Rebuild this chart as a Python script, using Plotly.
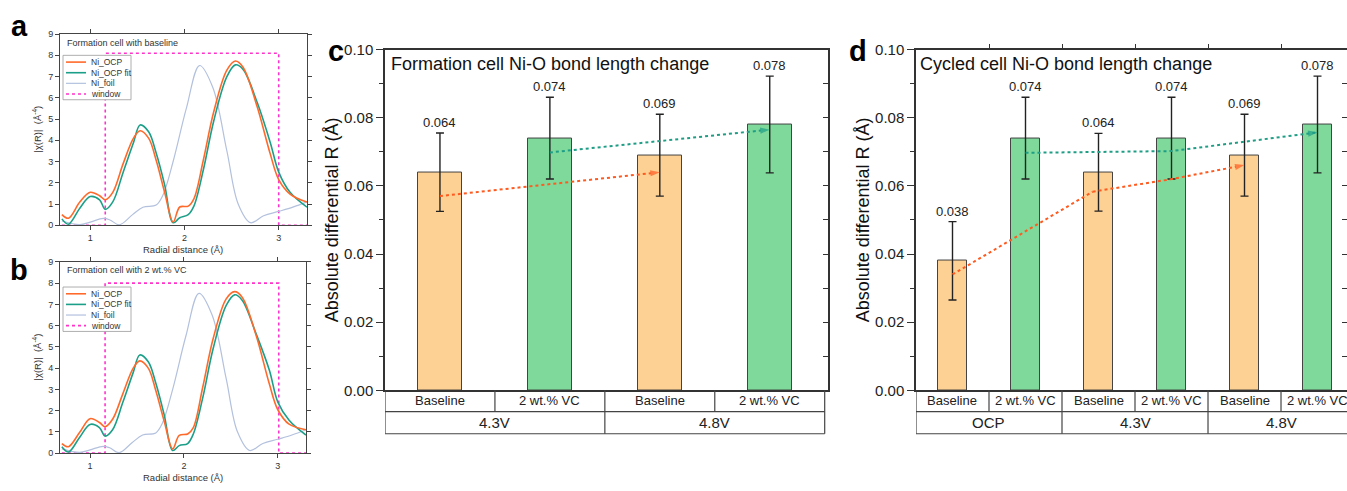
import plotly.graph_objects as go

W, H = 1347, 491
FONT = "Arial, Liberation Sans, sans-serif"

# ---------------- data: panels a / b (EXAFS |chi(R)|) ----------------
r_grid = [0.70, 0.77, 0.89, 1.00, 1.10, 1.16, 1.24, 1.35, 1.46, 1.53, 1.62, 1.70, 1.79,
          1.88, 1.95, 2.04, 2.10, 2.20, 2.31, 2.45, 2.54, 2.62, 2.77, 2.91, 3.00, 3.12, 3.30]
a_ocp = [0.50, 0.33, 1.09, 1.55, 1.39, 1.20, 1.55, 2.90, 4.10, 4.45, 4.10, 3.06, 1.55,
         0.15, 0.86, 0.90, 1.24, 3.06, 5.33, 7.30, 7.73, 7.45, 5.60, 3.36, 2.15, 1.47, 1.09]
a_fit = [0.30, 0.05, 0.80, 1.35, 1.20, 0.75, 1.10, 2.50, 3.90, 4.72, 4.40, 3.40, 1.90,
         0.12, 0.35, 0.50, 0.90, 2.60, 4.90, 7.00, 7.55, 7.35, 5.80, 3.90, 2.50, 1.55, 0.85]
b_ocp = [0.45, 0.30, 0.98, 1.62, 1.44, 1.24, 1.59, 2.80, 4.00, 4.34, 4.00, 2.95, 1.50,
         0.20, 0.83, 0.90, 1.20, 3.10, 5.37, 7.26, 7.60, 7.34, 5.52, 3.25, 2.04, 1.36, 1.10]
b_fit = [0.30, 0.05, 0.75, 1.35, 1.20, 0.80, 1.10, 2.40, 3.80, 4.62, 4.30, 3.30, 1.80,
         0.12, 0.35, 0.45, 0.90, 2.60, 4.90, 6.95, 7.45, 7.20, 5.60, 3.90, 2.40, 1.55, 0.85]
r_foil = [0.70, 0.89, 1.00, 1.14, 1.21, 1.31, 1.45, 1.56, 1.70, 1.77, 1.88, 2.02, 2.16,
          2.30, 2.45, 2.57, 2.70, 2.84, 3.00, 3.15, 3.30]
foil = [0.20, 0.03, 0.15, 0.32, 0.25, 0.02, 0.50, 0.85, 0.95, 1.40, 3.00, 5.50, 7.52,
        6.50, 3.50, 1.00, 0.12, 0.45, 0.65, 0.85, 1.10]
a_window_x = [0.70, 1.16, 1.16, 3.00, 3.00, 3.30]
a_window_y = [0, 0, 8.1, 8.1, 0, 0]
b_window_x = [0.70, 1.16, 1.16, 3.01, 3.01, 3.30]
b_window_y = [0, 0, 8.0, 8.0, 0, 0]
legend_names = ["Ni_OCP", "Ni_OCP fit", "Ni_foil", "window"]

# ---------------- data: panels c / d (bars) ----------------
c_samples = ["Baseline", "2 wt.% VC", "Baseline", "2 wt.% VC"]
c_groups = ["4.3V", "4.8V"]
c_values = [0.064, 0.074, 0.069, 0.078]
c_errors = [0.0115, 0.012, 0.012, 0.0142]
c_orange_x, c_orange_y = [0, 2], [0.057, 0.0640]
c_green_x, c_green_y = [1, 3], [0.0698, 0.0765]

d_samples = ["Baseline", "2 wt.% VC", "Baseline", "2 wt.% VC", "Baseline", "2 wt.% VC"]
d_groups = ["OCP", "4.3V", "4.8V"]
d_values = [0.038, 0.074, 0.064, 0.074, 0.069, 0.078]
d_errors = [0.0115, 0.012, 0.0114, 0.012, 0.012, 0.0142]
d_orange_x, d_orange_y = [0, 1.92, 2.98, 4.0], [0.034, 0.0583, 0.0619, 0.0661]
d_green_x, d_green_y = [1, 3, 5], [0.0697, 0.0702, 0.0757]

C_OCP = "#ff6a2b"
C_FIT = "#1c9f88"
C_FOIL = "#b3c1de"
C_WIN = "#ff33cc"
C_BASE = "#fdd193"
C_VC = "#7ed99b"
C_ARR_O = "#ff5a1f"
C_ARR_G = "#1f9e86"
AX = "#444444"

fig = go.Figure()


def px(x):
    return x / W


def py(y):
    return 1 - y / H


styles = {
    "Ni_OCP": dict(color=C_OCP, width=1.6, shape="spline"),
    "Ni_OCP fit": dict(color=C_FIT, width=1.6, shape="spline"),
    "Ni_foil": dict(color=C_FOIL, width=1.2, shape="spline"),
    "window": dict(color=C_WIN, width=1.6, dash="dot"),
}

# ---------- panels a, b ----------
for (xa, ya, ocp, fit, wx, wy, box_top) in [
    ("x", "y", a_ocp, a_fit, a_window_x, a_window_y, 48),
    ("x2", "y2", b_ocp, b_fit, b_window_x, b_window_y, 288),
]:
    series = {"window": (wx, wy), "Ni_foil": (r_foil, foil), "Ni_OCP fit": (r_grid, fit),
              "Ni_OCP": (r_grid, ocp)}
    for name in ["window", "Ni_foil", "Ni_OCP fit", "Ni_OCP"]:
        sx, sy = series[name]
        fig.add_trace(go.Scatter(x=sx, y=sy, xaxis=xa, yaxis=ya, mode="lines", name=name,
                                 line=styles[name], showlegend=False, hoverinfo="skip"))
    # compact legend box
    fig.add_shape(type="rect", xref="paper", yref="paper", x0=px(63), x1=px(131),
                  y0=py(box_top + 46), y1=py(box_top), line=dict(color="#999", width=0.8),
                  fillcolor="white", layer="above")
    for k, name in enumerate(legend_names):
        yy = box_top + 7 + 11 * k
        st = styles[name]
        fig.add_shape(type="line", xref="paper", yref="paper", x0=px(66), x1=px(86),
                      y0=py(yy), y1=py(yy), layer="above",
                      line=dict(color=st["color"], width=st["width"], dash=st.get("dash", "solid")))
        fig.add_annotation(x=px(89), y=py(yy), xref="paper", yref="paper", text=name,
                           showarrow=False, xanchor="left", yanchor="middle",
                           font=dict(family=FONT, size=8.5, color="#333"))


# ---------- panels c, d ----------
def bar_panel(xa, ya, samples, groups, values, errors, arrows, label_size):
    n = len(values)
    xs = list(range(n))
    colors = [C_BASE if s == "Baseline" else C_VC for s in samples]
    fig.add_trace(go.Bar(x=xs, y=values, xaxis=xa, yaxis=ya, width=0.4 if n == 4 else 0.41,
                         marker=dict(color=colors, line=dict(color="#444444", width=1)),
                         error_y=dict(type="data", array=errors, visible=True, color="#222222",
                                      thickness=1.4, width=4),
                         showlegend=False, hoverinfo="skip"))
    for (ax_x, ax_y, col) in arrows:
        sizes = [0] * (len(ax_x) - 1) + [10]
        fig.add_trace(go.Scatter(x=ax_x, y=ax_y, xaxis=xa, yaxis=ya, mode="lines+markers",
                                 line=dict(color=col, width=2, dash="dot"),
                                 marker=dict(symbol="arrow", size=sizes, angleref="previous",
                                             color=col, line=dict(width=0)),
                                 showlegend=False, hoverinfo="skip"))
    for i, (v, e) in enumerate(zip(values, errors)):
        fig.add_annotation(x=i, y=v + e, xref=xa, yref=ya, text=f"{v:.3f}", showarrow=False,
                           yanchor="bottom", yshift=1,
                           font=dict(family=FONT, size=13, color="#222222"))
    y0, y1, y2 = py(395), py(417), py(440)
    line = dict(color=AX, width=1.2)
    for i in range(n + 1):
        xb = i - 0.5
        full = (i % 2 == 0)
        fig.add_shape(type="line", xref=xa, yref="paper", x0=xb, x1=xb, y0=y0,
                      y1=y2 if full else y1, line=line)
    for yy in (y1, y2):
        fig.add_shape(type="line", xref=xa, yref="paper", x0=-0.5, x1=n - 0.5, y0=yy, y1=yy,
                      line=line)
    for i, s in enumerate(samples):
        fig.add_annotation(x=i, y=(y0 + y1) / 2, xref=xa, yref="paper", text=s, showarrow=False,
                           yanchor="middle", font=dict(family=FONT, size=label_size, color="#222"))
    for j, g in enumerate(groups):
        fig.add_annotation(x=2 * j + 0.5, y=(y1 + y2) / 2, xref=xa, yref="paper", text=g,
                           showarrow=False, yanchor="middle",
                           font=dict(family=FONT, size=15, color="#222"))


bar_panel("x3", "y3", c_samples, c_groups, c_values, c_errors,
          [(c_orange_x, c_orange_y, C_ARR_O), (c_green_x, c_green_y, C_ARR_G)], 13)
bar_panel("x4", "y4", d_samples, d_groups, d_values, d_errors,
          [(d_orange_x, d_orange_y, C_ARR_O), (d_green_x, d_green_y, C_ARR_G)], 13)

for xa, ya in [("x3", "y5"), ("x4", "y6"), ("x7", "y4")]:
    fig.add_trace(go.Scatter(x=[0], y=[0], xaxis=xa, yaxis=ya, mode="markers",
                             marker=dict(opacity=0), showlegend=False, hoverinfo="skip"))

# ---------- axes ----------
small_font = dict(family=FONT, size=9, color="#333")
exafs_x = dict(range=[0.68, 3.30], tickvals=[1, 2, 3], ticks="outside", ticklen=4, tickwidth=1,
               tickcolor=AX, showline=True, linecolor=AX, linewidth=1, mirror="ticks",
               showgrid=False, zeroline=False, tickfont=small_font)
exafs_y = dict(range=[0, 9], dtick=1, ticks="outside", ticklen=4, tickwidth=1, tickcolor=AX,
               showline=True, linecolor=AX, linewidth=1, mirror="ticks", showgrid=False,
               zeroline=False, tickfont=small_font)

bar_y = dict(range=[0, 0.1], dtick=0.02, tickformat=".2f", ticks="outside", ticklen=7,
             tickwidth=1.3, tickcolor="#333", showline=True, linecolor="#333", linewidth=1.5,
             showgrid=False, zeroline=False, tickfont=dict(family=FONT, size=15, color="#222"),
             minor=dict(dtick=0.01, ticks="outside", ticklen=4, tickwidth=1.3, tickcolor="#333"),
             title=dict(text="Absolute differential R (Å)", font=dict(family=FONT, size=18, color="#111"),
                        standoff=1))
bar_x = dict(showline=True, linecolor="#333", linewidth=1.5, mirror=True, showgrid=False,
             zeroline=False, showticklabels=False, ticks="")

fig.update_layout(
    width=W, height=H, margin=dict(l=0, r=0, t=0, b=0), paper_bgcolor="white",
    plot_bgcolor="white", font=dict(family=FONT), bargap=0, showlegend=False,
    xaxis=dict(domain=[px(60), px(307)], anchor="y", **exafs_x),
    yaxis=dict(domain=[py(224), py(26)], anchor="x", **exafs_y),
    xaxis2=dict(domain=[px(60), px(306)], anchor="y2", **exafs_x),
    yaxis2=dict(domain=[py(460), py(262)], anchor="x2", **exafs_y),
    xaxis3=dict(domain=[px(385), px(828)], anchor="y3", range=[-0.5, 3.53], **bar_x),
    yaxis3=dict(domain=[py(395), py(42)], anchor="x3", **bar_y),
    xaxis4=dict(domain=[px(916), 1.0], anchor="y4", range=[-0.5, 5.404], **bar_x),
    yaxis4=dict(domain=[py(395), py(42)], anchor="x4", **bar_y),
    yaxis5=dict(overlaying="y3", anchor="x3", side="right", range=[0, 0.1], dtick=0.01,
                ticks="inside", ticklen=5, tickwidth=1.3, tickcolor="#333", showline=True,
                linecolor="#333", linewidth=1.5, showticklabels=False, showgrid=False,
                zeroline=False),
    yaxis6=dict(overlaying="y4", anchor="x4", side="right", range=[0, 0.1], dtick=0.01,
                ticks="inside", ticklen=5, tickwidth=1.3, tickcolor="#333", showline=False,
                showticklabels=False, showgrid=False, zeroline=False),
    xaxis7=dict(overlaying="x4", anchor="y4", side="top", range=[-0.5, 5.404],
                tickvals=[0.5, 1.5, 2.5, 3.5, 4.5], ticks="outside", ticklen=5, tickwidth=1.3,
                tickcolor="#333", showline=False, showticklabels=False, showgrid=False,
                zeroline=False),
)

# axis titles for a / b
for top, bottom in [(26, 224), (262, 460)]:
    fig.add_annotation(x=px(183), y=py(bottom + 25), xref="paper", yref="paper",
                       text="Radial distance (Å)", showarrow=False, xanchor="center",
                       yanchor="middle", font=dict(family=FONT, size=9.5, color="#333"))
    fig.add_annotation(x=px(37), y=py((top + bottom) / 2), xref="paper", yref="paper",
                       text="|χ(R)|  (Å<sup>-4</sup>)", showarrow=False, textangle=-90,
                       xanchor="center", yanchor="middle",
                       font=dict(family=FONT, size=9.5, color="#333"))

# inner titles
fig.add_annotation(x=px(65), y=py(35), xref="paper", yref="paper", text="Formation cell with baseline",
                   showarrow=False, xanchor="left", yanchor="middle",
                   font=dict(family=FONT, size=9, color="#333"))
fig.add_annotation(x=px(65), y=py(270), xref="paper", yref="paper", text="Formation cell with 2 wt.% VC",
                   showarrow=False, xanchor="left", yanchor="middle",
                   font=dict(family=FONT, size=9, color="#333"))
fig.add_annotation(x=px(389), y=py(57), xref="paper", yref="paper",
                   text="Formation cell Ni-O bond length change", showarrow=False,
                   xanchor="left", yanchor="middle", font=dict(family=FONT, size=18, color="#111"))
fig.add_annotation(x=px(918), y=py(57), xref="paper", yref="paper",
                   text="Cycled cell Ni-O bond length change", showarrow=False,
                   xanchor="left", yanchor="middle", font=dict(family=FONT, size=18, color="#111"))

# panel letters
for letter, lx, ly in [("a", 19, 18), ("b", 19, 270), ("c", 336, 43), ("d", 858, 43)]:
    fig.add_annotation(x=px(lx), y=py(ly), xref="paper", yref="paper", text=f"<b>{letter}</b>",
                       showarrow=False, xanchor="center", yanchor="middle",
                       font=dict(family=FONT, size=29, color="black"))

fig.write_html("out.html")
